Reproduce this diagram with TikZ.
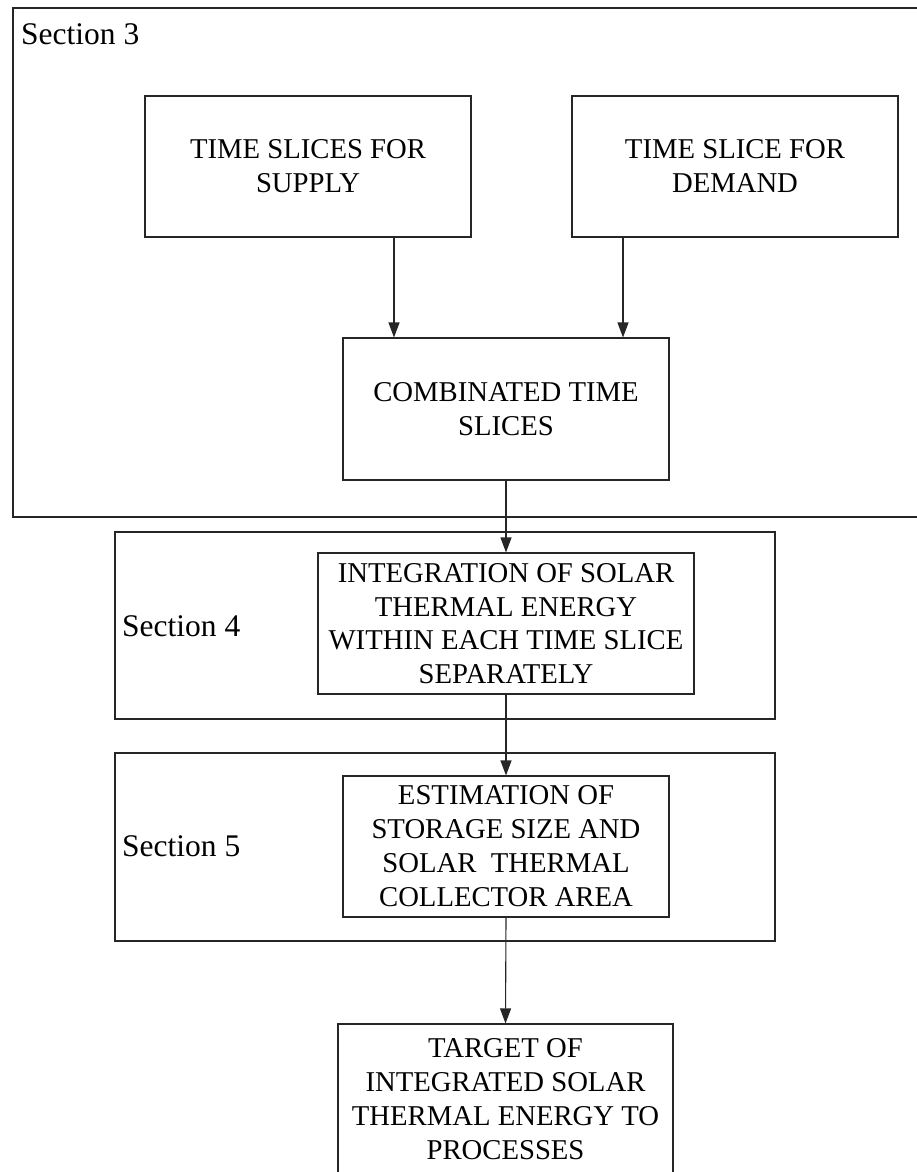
\documentclass[tikz,border=0pt]{standalone}
\usepackage{fontspec}
\setmainfont{Liberation Serif}
\usetikzlibrary{arrows.meta}
\begin{document}
\begin{tikzpicture}[x=1pt,y=-1pt,
  frame/.style={draw=black!85, line width=1.1pt, inner sep=0pt},
  proc/.style={draw=black!85, line width=1.1pt, inner sep=0pt, align=center,
    font=\fontsize{28.7}{34}\selectfont},
  seclabel/.style={inner sep=0pt, anchor=base west, font=\fontsize{31.5}{36}\selectfont},
  arr/.style={draw=black!85, line width=1.1pt, -{Triangle[length=15pt,width=11pt]}}
]
\useasboundingbox (0,0) rectangle (916,1172);

% section frames
\node[frame, minimum width=905pt, minimum height=509pt] (sec3) at (465.5,262.5) {};
\node[frame, minimum width=660pt, minimum height=187pt] (sec4) at (445,625.5) {};
\node[frame, minimum width=660pt, minimum height=188pt] (sec5) at (445,847) {};

\node[seclabel] (lab3) at (21,45) {Section 3};
\node[seclabel] (lab4) at (122,636) {Section 4};
\node[seclabel] (lab5) at (122,856) {Section 5};

% process boxes
\node[proc, minimum width=326pt, minimum height=141pt] (supply) at (308,166.5)
  {TIME SLICES FOR\\SUPPLY};
\node[proc, minimum width=326pt, minimum height=141pt] (demand) at (735,166.5)
  {TIME SLICE FOR\\DEMAND};
\node[proc, minimum width=326pt, minimum height=142pt] (comb) at (506,409)
  {COMBINATED TIME\\SLICES};
\node[proc, minimum width=376pt, minimum height=141pt,
  font=\fontsize{28.7}{33.5}\selectfont] (integ) at (506,623.5)
  {INTEGRATION OF SOLAR\\THERMAL ENERGY\\WITHIN EACH TIME SLICE\\SEPARATELY};
\node[proc, minimum width=326pt, minimum height=141pt] (estim) at (506,846.5)
  {ESTIMATION OF\\STORAGE SIZE AND\\SOLAR~ THERMAL\\COLLECTOR AREA};
\node[proc, minimum width=335pt, minimum height=151pt] (target) at (505.5,1099.5)
  {TARGET OF\\INTEGRATED SOLAR\\THERMAL ENERGY TO\\PROCESSES};

% connectors
\draw[arr] ([xshift=86pt]supply.south) -- ([xshift=-112pt]comb.north);
\draw[arr] ([xshift=-112pt]demand.south) -- ([xshift=117pt]comb.north);
\draw[arr] (comb.south) -- (integ.north);
\draw[arr] (integ.south) -- (estim.north);
\draw[arr] (estim.south) -- (target.north);
\end{tikzpicture}
\end{document}
